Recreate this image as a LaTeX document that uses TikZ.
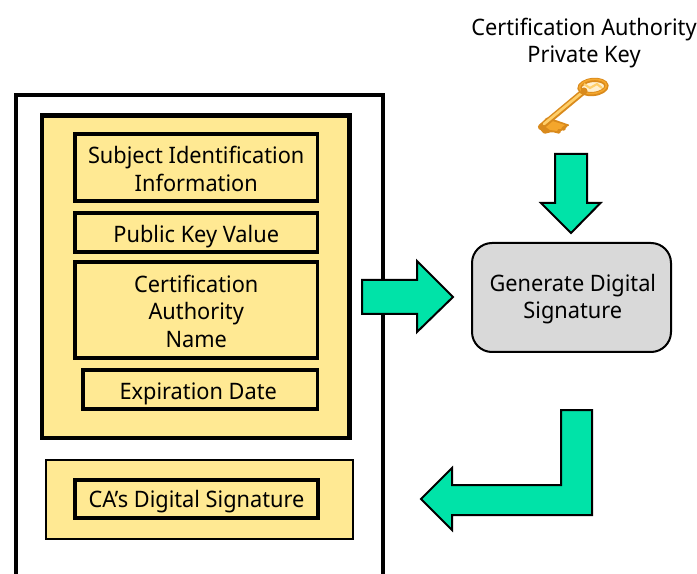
\documentclass[tikz,border=0pt]{standalone}
\usepackage{fontspec}
\setmainfont[FakeStretch=0.96]{Noto Sans}
\tikzset{
  x=0.75pt,y=-0.75pt,
  field/.style={draw=black,fill=certyellow,line width=2.7pt,rectangle,inner sep=0pt,outer sep=0pt,align=center,text=black,font=\lbl,anchor=north west},
  bodyfield/.style={field,line width=3.2pt},
  thinfield/.style={field,line width=1.5pt},
  blockarrow/.style={draw=black,fill=arrowgreen,line width=1.5pt,line join=miter,miter limit=10},
}
\definecolor{certyellow}{HTML}{FFE993}
\definecolor{arrowgreen}{HTML}{00E3A8}
\definecolor{procgray}{HTML}{D9D9D9}
\definecolor{keylight}{HTML}{FFCF6A}
\definecolor{keymid}{HTML}{F4A62C}
\definecolor{keydark}{HTML}{D98A1C}
\definecolor{keypale}{HTML}{FFF0D0}
\newcommand{\lbl}{\fontsize{17}{20.6}\selectfont}
\newcommand{\dn}[1]{\rule{0pt}{#1}}
\begin{document}
\begin{tikzpicture}
\useasboundingbox (0,0) rectangle (697,574);
\clip (0,0) rectangle (697,574);
% certificate frame (open at the bottom of the picture)
\draw[line width=3pt,line join=miter] (16,580) -- (16,95) -- (383,95) -- (383,580);
% certificate body
\node[bodyfield,minimum width=307.5*0.75pt,minimum height=322.5*0.75pt] (body) at (42,115.5) {};
\node[field,minimum width=242.5*0.75pt,minimum height=67*0.75pt] (subject) at (75,134) {\dn{15.5pt}Subject Identification\\Information};
\node[field,minimum width=242.5*0.75pt,minimum height=39*0.75pt] (pubkey) at (75,213) {\dn{19pt}Public Key Value};
\node[field,minimum width=242.5*0.75pt,minimum height=96*0.75pt] (caname) at (75,262) {\dn{14.5pt}Certification\\Authority\\Name};
\node[field,minimum width=234.5*0.75pt,minimum height=39*0.75pt] (expiry) at (83,370) {\dn{18.5pt}\hspace*{-3pt}Expiration Date};
% signature
\node[thinfield,minimum width=307*0.75pt,minimum height=78.5*0.75pt] (sigouter) at (46,460) {};
\node[field,minimum width=243*0.75pt,minimum height=38*0.75pt] (signature) at (75,480) {\dn{17pt}CA’s Digital Signature};
% process
\node[draw=black,fill=procgray,line width=1.5pt,rounded corners=15pt,rectangle,outer sep=0pt,minimum width=199*0.75pt,minimum height=109*0.75pt,align=center,font=\lbl,anchor=north west] (generate) at (472,243) {\dn{15pt}\hspace*{2pt}Generate Digital\\\hspace*{2pt}Signature};
% arrows
\draw[blockarrow] (362,280) -- (417,280) -- (417,261) -- (453,297) -- (417,332) -- (417,314) -- (362,314) -- cycle;
\draw[blockarrow] (555,154) -- (587,154) -- (587,203) -- (600.5,203) -- (571,233) -- (541,203) -- (555,203) -- cycle;
\draw[blockarrow] (561,410) -- (592,410) -- (592,515) -- (452,515) -- (452,530) -- (421,499) -- (452,468) -- (452,485) -- (561,485) -- cycle;
% key
\node[align=center,font=\lbl,text=black] (keylabel) at (584,41.5) {\dn{15pt}Certification Authority\\Private Key};
\fill[keydark,rounded corners=1pt] (538,127) -- (547,117) -- (570,125) -- (566,127) -- (565,131) -- (561,130) -- (560,134) -- (552,132) -- (544,134) -- cycle;
\fill[keymid] (543,125) -- (549,120) -- (565,125) -- (562,127) -- (561,129) -- (558,129) -- (557,131) -- (550,130) -- cycle;
\draw[keydark,line width=4.6pt,line cap=round] (541,127) -- (583,92);
\draw[keylight,line width=2pt,line cap=round] (544,124) -- (584,91);
\draw[keydark,fill=keypale,line width=3.2pt,rotate around={6:(593,87)}] (593,87) ellipse [x radius=13.5,y radius=7];
\draw[keymid,line width=1.2pt,rotate around={6:(593,87)}] (593,86.5) ellipse [x radius=13.5,y radius=7];
\draw[keylight,line width=1.6pt] (584,84) -- (590,88) -- (597,84) -- (602,88);
\fill[keydark] (584,91) circle [radius=3.5];
\end{tikzpicture}
\end{document}
